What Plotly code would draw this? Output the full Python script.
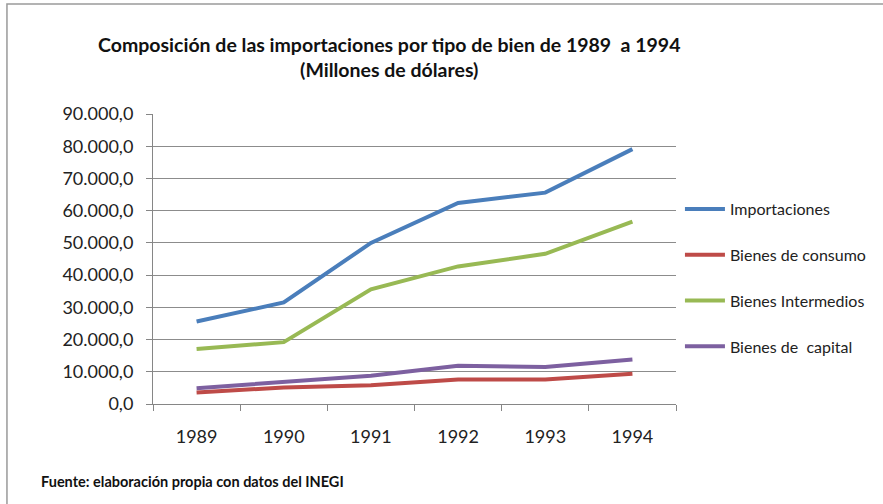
import plotly.graph_objects as go

#%% data
years = ['1989', '1990', '1991', '1992', '1993', '1994']
importaciones = [25600, 31500, 50000, 62400, 65600, 79100]
bienes_consumo = [3600, 5100, 5800, 7600, 7600, 9400]
bienes_intermedios = [17100, 19200, 35600, 42700, 46600, 56600]
bienes_capital = [4900, 6800, 8800, 11900, 11500, 13800]

series = [
    ('Importaciones', importaciones, '#4A7EBB'),
    ('Bienes de consumo', bienes_consumo, '#BE4B48'),
    ('Bienes Intermedios', bienes_intermedios, '#98B954'),
    ('Bienes de  capital', bienes_capital, '#7D60A0'),
]

#%% figure
W, H = 883, 504
L, R, T, B = 153, 200, 114, 100
pw, ph = W - L - R, H - T - B


def px_x(px):
    return (px - L) / pw


def px_y(py):
    return (H - B - py) / ph


fig = go.Figure()
for i, (name, vals, color) in enumerate(series):
    fig.add_trace(go.Scatter(
        x=years, y=vals, name=name, mode='lines',
        line=dict(color=color, width=4),
        legendgroup=str(i),
    ))

font = 'Lato, Open Sans, sans-serif'
fig.update_layout(
    width=W, height=H,
    margin=dict(l=L, r=R, t=T, b=B),
    paper_bgcolor='white', plot_bgcolor='white',
    separators=',.',
    font=dict(family=font, size=18, color='#222222'),
    showlegend=True,
    legend=dict(
        x=px_x(687), y=px_y(192), xanchor='left', yanchor='top',
        font=dict(size=16, color='#222222'),
        tracegroupgap=22, itemwidth=40,
        bgcolor='rgba(0,0,0,0)',
    ),
    xaxis=dict(
        type='category', range=[-0.5, len(years) - 0.5], showgrid=False,
        showline=True, linecolor='#868686', linewidth=1,
        ticks='outside', tickson='boundaries', ticklen=6, tickcolor='#868686',
        ticklabelstandoff=16,
        tickfont=dict(size=18, color='#222222'),
    ),
    yaxis=dict(
        range=[0, 90000], dtick=10000, tickformat=',.1f',
        showgrid=True, gridcolor='#8c8c8c', gridwidth=1,
        showline=True, linecolor='#868686', linewidth=1,
        ticks='outside', ticklen=6, tickcolor='#868686',
        ticklabelstandoff=9,
        tickfont=dict(size=18, color='#222222'),
        zeroline=False,
    ),
    shapes=[dict(
        type='rect', xref='paper', yref='paper',
        x0=px_x(5), y0=px_y(515), x1=px_x(895), y1=px_y(4),
        line=dict(color='#9a9a9a', width=1.5), fillcolor='rgba(0,0,0,0)',
        layer='below',
    )],
    annotations=[
        dict(
            text='<b>Composición de las importaciones por tipo de bien de 1989  a 1994<br>(Millones de dólares)</b>',
            xref='paper', yref='paper', x=px_x(393), y=px_y(57),
            xanchor='center', yanchor='middle', showarrow=False,
            font=dict(size=19.5, color='#111111'), align='center',
        ),
        dict(
            text='<b>Fuente: elaboración propia con datos del INEGI</b>',
            xref='paper', yref='paper', x=px_x(37), y=px_y(482),
            xanchor='left', yanchor='middle', showarrow=False,
            font=dict(size=14.5, color='#111111'),
        ),
    ],
)

fig.write_html('out.html', config={'displayModeBar': False},
               post_script="document.body.style.margin='0';")
